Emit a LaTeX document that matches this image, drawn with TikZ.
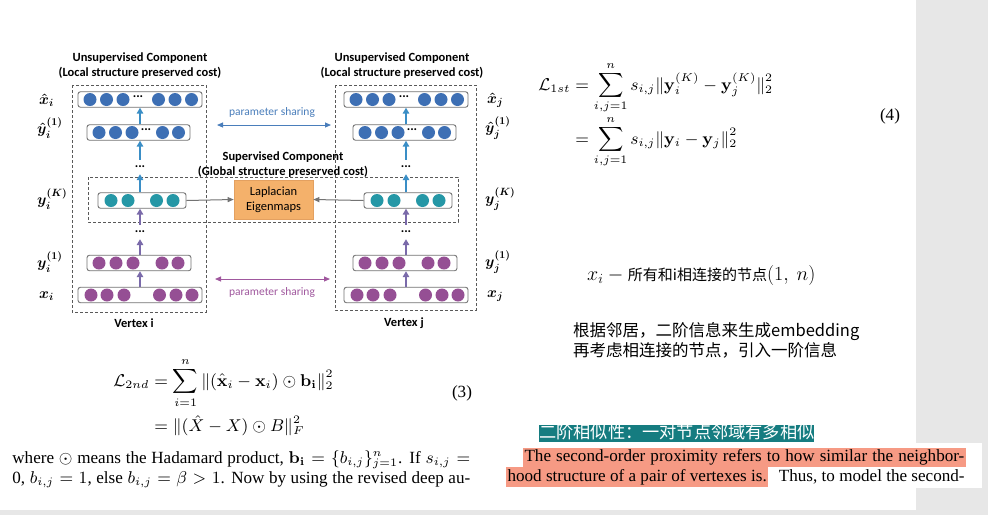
\documentclass[tikz,border=0pt]{standalone}
\usepackage{fix-cm}
\usepackage{amsmath,amssymb}
\usepackage[no-math]{fontspec}
\setmainfont{Liberation Serif}
\newfontfamily\carlito{Carlito}
\newfontfamily\cjkfont{Noto Sans CJK SC}
\usetikzlibrary{arrows.meta}
\definecolor{cblue}{HTML}{3D6FB4}
\definecolor{cteal}{HTML}{2597A6}
\definecolor{cpurp}{HTML}{954F94}
\definecolor{ablue}{HTML}{3A8EC6}
\definecolor{apurp}{HTML}{7A6AAA}
\definecolor{psblue}{HTML}{4A7EBB}
\definecolor{pspurp}{HTML}{A0589E}
\definecolor{lapl}{HTML}{F4B16B}
\definecolor{laplb}{HTML}{E3A060}
\definecolor{hlteal}{HTML}{157C80}
\definecolor{hlpink}{HTML}{F69A84}
\definecolor{pagegray}{HTML}{E7E7E7}
\newcommand\dotrow[4]{\foreach \o in {#4} {\fill[#3] ({#1+\o},#2) circle[radius=6.5pt];}}
\begin{document}
\begin{tikzpicture}[x=1pt,y=-1pt,
  layer/.style={draw=black!55, rounded corners=2.5pt, line width=0.9pt, fill=white, inner sep=0, minimum height=15.5},
  dbox/.style={draw=black!65, dash pattern=on 3pt off 2pt, line width=0.7pt},
  varrow/.style={-{Triangle[length=6pt,width=6.5pt]}, line width=2pt},
  garrow/.style={-{Triangle[length=6pt,width=5pt]}, line width=1pt, draw=black!55},
  parrow/.style={{Triangle[length=6pt,width=5pt]}-{Triangle[length=6pt,width=5pt]}, line width=1pt},
  lab/.style={font=\carlito\bfseries\fontsize{12.5}{15}\selectfont, align=center, inner sep=0},
  dots/.style={font=\carlito\bfseries\fontsize{13}{13}\selectfont, inner xsep=1pt},
  vdots/.style={dots, inner ysep=6pt},
  mlab/.style={font=\fontsize{15}{17}\selectfont\boldmath, anchor=west, inner sep=0},
  paper/.style={font=\fontsize{9}{11}\selectfont, scale=1.9, inner sep=0},
  hl/.style={paper, fill=hlpink, inner xsep=0.6pt, inner ysep=0.4pt, text height=7pt, text depth=2.3pt}]
\useasboundingbox (0,0) rectangle (988,515);
\fill[pagegray] (0,0) rectangle (988,515);
\fill[white] (0,0) rectangle (916,510);
\fill[white] (505,443) rectangle (982,488);

% dashed component boxes
\draw[dbox] (72,85) rectangle (206,312);
\draw[dbox] (335,85) rectangle (476,310);
\draw[dbox] (88,177) rectangle (458,222);

% columns
\foreach \cx/\s in {140/L, 406/R} {
  \node[layer, minimum width=124] (xh\s) at (\cx,99.5) {};
  \node[layer, minimum width=103] (yh\s) at ({\cx-1.5},132.5) {};
  \node[layer, minimum width=88]  (yk\s) at ({\cx+2},200.5) {};
  \node[layer, minimum width=104] (ya\s) at ({\cx-1},263) {};
  \node[layer, minimum width=124] (x\s)  at (\cx,295) {};
  \dotrow{\cx}{99.5}{cblue}{-50,-33.5,-17,18.5,35,51.5}
  \dotrow{\cx}{132.5}{cblue}{-41,-24.5,-8,22.5,38.5}
  \dotrow{\cx}{200.5}{cteal}{-29,-12,16.5,33}
  \dotrow{\cx}{263}{cpurp}{-41,-24,-7,22,38}
  \dotrow{\cx}{295}{cpurp}{-49,-33,-16,19.5,36,52}
  \node[dots] at ({\cx-2},97) {...};
  \node[dots] at ({\cx+6},130) {...};
  \node[vdots] (du\s) at (\cx,167) {...};
  \node[vdots] (dl\s) at (\cx,232) {...};
  \draw[varrow, apurp] (x\s.north -| \cx,0) -- (ya\s.south -| \cx,0);
  \draw[varrow, apurp] (ya\s.north -| \cx,0) -- (dl\s.south);
  \draw[varrow, apurp] (dl\s.north) -- (yk\s.south -| \cx,0);
  \draw[varrow, ablue] (yk\s.north -| \cx,0) -- (du\s.south);
  \draw[varrow, ablue] (du\s.north) -- (yh\s.south -| \cx,0);
  \draw[varrow, ablue] (yh\s.north -| \cx,0) -- (xh\s.south -| \cx,0);
}

% Laplacian eigenmaps
\node[fill=lapl, draw=laplb, line width=0.6pt, minimum width=79, minimum height=39, inner sep=0,
      font=\carlito\fontsize{12.5}{15}\selectfont, align=center] (lap) at (273.5,199.5) {Laplacian\\Eigenmaps};
\draw[garrow] (ykL.east) -- (lap.west);
\draw[garrow] (ykR.west) -- (lap.east);

% component titles
\node[lab] (tl) at (140,65.5) {Unsupervised Component\\(Local structure preserved cost)};
\node[lab] (tr) at (402,65.5) {Unsupervised Component\\(Local structure preserved cost)};
\node[lab] (ts) at (283,164.5) {Supervised Component\\(Global structure preserved cost)};
\node[lab] (vi) at (134,323) {Vertex i};
\node[lab] (vj) at (404,323) {Vertex j};

% parameter sharing
\coordinate (pa1) at (217,125); \coordinate (pa2) at (331,125);
\coordinate (pb1) at (215,279); \coordinate (pb2) at (330,279);
\draw[parrow, psblue] (pa1) -- (pa2);
\draw[parrow, pspurp] (pb1) -- (pb2);
\node[font=\carlito\fontsize{11.5}{13}\selectfont, text=psblue] (psa) at (272,112) {parameter sharing};
\node[font=\carlito\fontsize{11.5}{13}\selectfont, text=pspurp] (psb) at (272,292) {parameter sharing};

% side labels
\node[mlab] (lxh) at (39,100) {$\hat{x}_i$};
\node[mlab] (lyh) at (37,128) {$\hat{y}_i^{(1)}$};
\node[mlab] (lyk) at (37,199) {$y_i^{(K)}$};
\node[mlab] (lya) at (37,262) {$y_i^{(1)}$};
\node[mlab] (lx)  at (39,296) {$x_i$};
\node[mlab] (rxh) at (487,100) {$\hat{x}_j$};
\node[mlab] (ryh) at (485,128) {$\hat{y}_j^{(1)}$};
\node[mlab] (ryk) at (485,199) {$y_j^{(K)}$};
\node[mlab] (rya) at (485,262) {$y_j^{(1)}$};
\node[mlab] (rx)  at (487,296) {$x_j$};

% equation (3) and text
\node[paper, anchor=west] (eq3) at (113,398) {$\begin{aligned}
  \mathcal{L}_{2nd} &= \sum_{i=1}^{n}\|(\hat{\mathbf{x}}_i-\mathbf{x}_i)\odot\mathbf{b_i}\|_2^2\\
  &= \|(\hat{X}-X)\odot B\|_F^2
\end{aligned}$};
\node[paper] (n3) at (462,393) {(3)};
\node[paper, anchor=west] (w1) at (12,460) {\makebox[241pt][s]{where $\odot$ means the Hadamard product, $\mathbf{b_i}=\{b_{i,j}\}_{j=1}^{n}$. If $s_{i,j}=$}};
\node[paper, anchor=west] (w2) at (12,480) {\makebox[241pt][s]{0, $b_{i,j}=1$, else $b_{i,j}=\beta>1$. Now by using the revised deep au-}};

% equation (4)
\node[paper, anchor=west] (eq4) at (538,115) {$\begin{aligned}
  \mathcal{L}_{1st} &= \sum_{i,j=1}^{n} s_{i,j}\|\mathbf{y}_i^{(K)}-\mathbf{y}_j^{(K)}\|_2^2\\[-3pt]
  &= \sum_{i,j=1}^{n} s_{i,j}\|\mathbf{y}_i-\mathbf{y}_j\|_2^2
\end{aligned}$};
\node[paper] (n4) at (890,116) {(4)};

% Chinese notes
\node[anchor=west, inner sep=0, font=\cjkfont\fontsize{15}{18}\selectfont] (c1) at (587,275)
  {{\fontsize{20}{20}\selectfont$x_i\:-\:$}所有和i相连接的节点{\fontsize{20}{20}\selectfont$(1,\ n)$}};
\node[anchor=north west, inner sep=0, align=left, font=\cjkfont\fontsize{16.5}{20}\selectfont] (c2) at (573,322) {根据邻居，二阶信息来生成embedding\\再考虑相连接的节点，引入一阶信息};

% highlighted passage
\node[anchor=west, fill=hlteal, text=white, inner xsep=0, inner ysep=0, text height=13pt, text depth=4pt,
      font=\cjkfont\fontsize{17.2}{17}\selectfont] (h0) at (539,433.5) {二阶相似性：一对节点邻域有多相似};
\node[hl, anchor=west] (p1) at (523,457.5) {\makebox[231.5pt][s]{The second-order proximity refers to how similar the neighbor-}};
\node[hl, anchor=west] (p2) at (506,477) {hood structure of a pair of vertexes is.};
\node[paper, anchor=east] (p3) at (965,477) {Thus, to model the second-};
\end{tikzpicture}
\end{document}
